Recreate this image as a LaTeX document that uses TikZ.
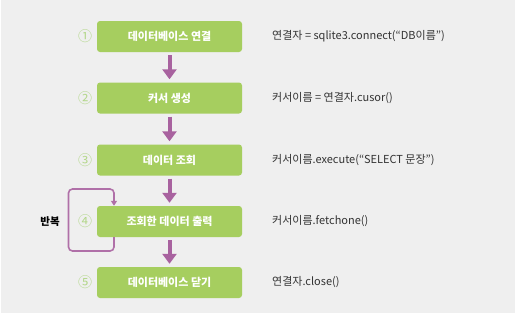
\documentclass[tikz,border=0pt]{standalone}
\usepackage{fontspec}
\setmainfont{Noto Sans CJK KR}
\usetikzlibrary{arrows.meta}
\definecolor{bg}{HTML}{EFEFEF}
\definecolor{boxgreen}{HTML}{A6CE5F}
\definecolor{numgreen}{HTML}{B3D78A}
\definecolor{arrowpurple}{HTML}{A8629F}
\definecolor{looppurple}{HTML}{B070A8}
\definecolor{codegray}{HTML}{333333}
\tikzset{
  stepbox/.style={fill=boxgreen, rounded corners=3pt, minimum width=145pt, minimum height=31pt, inner sep=0pt, text=white, font=\bfseries\fontsize{11}{13}\selectfont},
  numlabel/.style={text=numgreen, font=\fontsize{14}{16}\selectfont, inner sep=0pt},
  codetext/.style={anchor=west, text=codegray, font=\fontsize{11}{13}\selectfont, inner sep=0pt},
  flowarrow/.style={draw=arrowpurple, line width=4pt, -{Triangle[width=14pt,length=10pt]}, shorten <=3pt, shorten >=3pt},
  looparrow/.style={draw=looppurple, line width=1.6pt, rounded corners=4pt, -{Triangle[width=6pt,length=5pt]}}
}
\begin{document}
\begin{tikzpicture}[x=1pt,y=-1pt]
\fill[white] (0,0) rectangle (517,314);
\fill[bg] (1,0) rectangle (515,313);
\useasboundingbox (0,0) rectangle (517,314);

\node[stepbox] (b1) at (169.5,36.5) {데이터베이스 연결};
\node[stepbox] (b2) at (169.5,98) {커서 생성};
\node[stepbox] (b3) at (169.5,160) {데이터 조회};
\node[stepbox] (b4) at (169.5,221.5) {조회한 데이터 출력};
\node[stepbox] (b5) at (169.5,282.5) {데이터베이스 닫기};

\node[numlabel] (n1) at (85,36.5) {①};
\node[numlabel] (n2) at (85,98) {②};
\node[numlabel] (n3) at (85,160) {③};
\node[numlabel] (n4) at (85,221.5) {④};
\node[numlabel] (n5) at (85,282.5) {⑤};

\node[codetext] (c1) at (272,36.5) {연결자 = sqlite3.connect(“DB이름”)};
\node[codetext] (c2) at (272,98) {커서이름 = 연결자.cusor()};
\node[codetext] (c3) at (272,160) {커서이름.execute(“SELECT 문장”)};
\node[codetext] (c4) at (272,221.5) {커서이름.fetchone()};
\node[codetext] (c5) at (272,282.5) {연결자.close()};

\draw[flowarrow] (b1) -- (b2);
\draw[flowarrow] (b2) -- (b3);
\draw[flowarrow] (b3) -- (b4);
\draw[flowarrow] (b4) -- (b5);

\coordinate (ltop) at (68.5,189);
\coordinate (lbot) at (68.5,251);
\draw[looparrow] (b4.south -| 114,0) -- (114,251) -- (lbot) -- (ltop) -- (114,189) -- (b4.north -| 114,0);

\node[text=black, font=\bfseries\fontsize{10.5}{12}\selectfont, inner sep=0pt] (rep) at (50,221.5) {반복};
\end{tikzpicture}
\end{document}
